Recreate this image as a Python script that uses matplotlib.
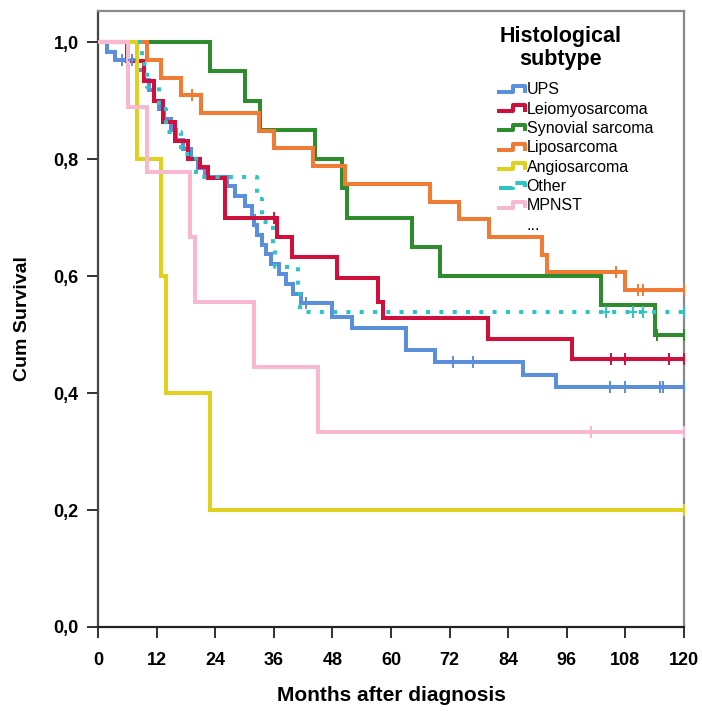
import matplotlib
matplotlib.use("Agg")
import matplotlib.pyplot as plt
from matplotlib.legend_handler import HandlerBase
from matplotlib.lines import Line2D
from matplotlib.ticker import FuncFormatter

# step data (months, cumulative survival)
ups_t = [0, 1.8, 3.5, 8, 9.5, 10.5, 11.5, 12.5, 13.5, 15, 16, 17.5, 19, 20.5, 22,
         26.5, 28, 30, 31.5, 32, 32.5, 33.5, 34.5, 35.5, 37, 38.5, 40, 41.5,
         47.9, 52, 63, 69, 87, 93.8]
ups_s = [1, .983, .969, .952, .935, .918, .90, .885, .868, .85, .833, .817, .80, .785, .77,
         .753, .737, .72, .703, .687, .67, .653, .637, .62, .603, .587, .57, .553,
         .53, .511, .473, .453, .431, .41]
ups_cens_t = [5, 7, 42.6, 72.7, 76.8, 104.9, 108, 115, 115.8, 120]

leio_t = [0, 6, 9.5, 11.5, 13.3, 15.7, 18.4, 20.9, 22.5, 26, 36.6, 39.8, 48.9, 57.4, 58.3, 79.9, 97.1]
leio_s = [1, .967, .933, .90, .863, .83, .80, .787, .767, .70, .667, .632, .597, .556, .528, .492, .458]
leio_cens_t = [36, 105, 108, 117, 120]

syn_t = [0, 23, 30.1, 33.2, 44.5, 50, 51, 64.3, 70, 103, 114]
syn_s = [1, .95, .90, .85, .80, .75, .70, .65, .60, .55, .50]
syn_cens_t = [114.5, 120]

lipo_t = [0, 10, 13, 17, 21, 33, 36, 44, 50.6, 68, 74, 80, 91, 92, 108]
lipo_s = [1, .970, .939, .909, .879, .848, .818, .788, .758, .727, .697, .667, .636, .606, .576]
lipo_cens_t = [19.3, 106, 110.6, 111.6, 120]

angio_t = [0, 8, 13, 14, 23]
angio_s = [1, .8, .6, .4, .2]
angio_cens_t = [120]

other_t = [0, 9, 10, 12.5, 14, 17, 20, 32.6, 33.5, 35.8, 36.2, 41, 41.3]
other_s = [1, .962, .923, .885, .846, .808, .769, .731, .692, .654, .615, .577, .538]
other_cens_t = [104, 109.6, 111.6, 120]

mpnst_t = [0, 6.2, 10, 18.9, 19.9, 32, 45]
mpnst_s = [1, .889, .778, .667, .556, .444, .333]
mpnst_cens_t = [101, 120]

labels = ["UPS", "Leiomyosarcoma", "Synovial sarcoma", "Liposarcoma",
          "Angiosarcoma", "Other", "MPNST"]
colors = ["#5B8FDB", "#CF0F3C", "#2E8B2E", "#F07B35", "#E0D020", "#2EC4C4", "#F7B9D1"]

SANS = ["Liberation Sans", "DejaVu Sans"]


def level_at(t, s, x):
    val = s[0]
    for ti, si in zip(t, s):
        if ti <= x:
            val = si
    return val


class StepHandler(HandlerBase):
    # small step-shaped legend key like the SPSS one
    def create_artists(self, legend, orig_handle, xdescent, ydescent,
                       width, height, fontsize, trans):
        x0 = -xdescent
        y0 = -ydescent
        xs = [x0, x0 + 0.55 * width, x0 + 0.55 * width, x0 + width, x0 + width]
        ys = [y0 + 0.25 * height, y0 + 0.25 * height, y0 + 0.75 * height,
              y0 + 0.75 * height, y0 + 0.35 * height]
        ln = Line2D(xs, ys, color=orig_handle.get_color(),
                    linewidth=orig_handle.get_linewidth(),
                    linestyle=orig_handle.get_linestyle(), transform=trans)
        return [ln]


series = [
    (ups_t, ups_s, ups_cens_t),
    (leio_t, leio_s, leio_cens_t),
    (syn_t, syn_s, syn_cens_t),
    (lipo_t, lipo_s, lipo_cens_t),
    (angio_t, angio_s, angio_cens_t),
    (other_t, other_s, other_cens_t),
    (mpnst_t, mpnst_s, mpnst_cens_t),
]

fig = plt.figure(figsize=(7.02, 7.14), dpi=100)
ax = fig.add_axes([98 / 702, 87 / 714, 586 / 702, 616 / 714])

order = [6, 4, 2, 3, 0, 1, 5]
handles = {}
for i in order:
    t, s, ct = series[i]
    ls = (0, (1, 2.3)) if labels[i] == "Other" else "-"
    tt = list(t) + [120]
    ss = list(s) + [s[-1]]
    (ln,) = ax.step(tt, ss, where="post", color=colors[i], lw=2.9,
                    linestyle=ls, solid_joinstyle="miter", zorder=2 + i * 0.1)
    handles[i] = ln
    cy = [level_at(t, s, x) for x in ct]
    ax.plot(ct, cy, linestyle="none", marker="|", markersize=9,
            markeredgewidth=1.4, color=colors[i], zorder=3)
    ax.plot(ct, cy, linestyle="none", marker="_", markersize=6,
            markeredgewidth=1.4, color=colors[i], zorder=3)

ax.set_xlim(0, 120)
ax.set_ylim(0, 1.053)
ax.set_xticks(range(0, 121, 12))
ax.set_yticks([0, 0.2, 0.4, 0.6, 0.8, 1.0])
ax.yaxis.set_major_formatter(FuncFormatter(lambda v, p: f"{v:.1f}".replace(".", ",")))

for sp in ["top", "right"]:
    ax.spines[sp].set_color("#8a8a8a")
    ax.spines[sp].set_linewidth(1.6)
ax.spines["left"].set_color("#444444")
ax.spines["left"].set_linewidth(1.6)
ax.spines["bottom"].set_color("#222222")
ax.spines["bottom"].set_linewidth(1.6)

ax.tick_params(axis="both", direction="out", length=8, width=1.3, color="#222222")
ax.tick_params(axis="y", pad=6)
ax.tick_params(axis="x", pad=10)
for lab in ax.get_yticklabels() + ax.get_xticklabels():
    lab.set_fontfamily(SANS)
    lab.set_fontweight("bold")
    lab.set_fontsize(13)

ax.set_xlabel("Months after diagnosis", fontsize=15, fontweight="bold",
              family=SANS, labelpad=12)
ax.set_ylabel("Cum Survival", fontsize=14, fontweight="bold",
              family=SANS, labelpad=16)

leg_handles = [handles[i] for i in range(7)]
leg_handles.append(Line2D([], [], color="none"))
leg_labels = labels + ["..."]
leg = ax.legend(leg_handles, leg_labels, title="Histological\nsubtype",
                loc="upper left", bbox_to_anchor=(0.685, 0.975), frameon=False,
                prop={"family": SANS, "size": 11.5},
                handlelength=1.6, handletextpad=0.1, labelspacing=0.27,
                borderpad=0, borderaxespad=0,
                handler_map={Line2D: StepHandler()})
title = leg.get_title()
title.set_fontweight("bold")
title.set_fontsize(15.5)
title.set_family(SANS)
title.set_multialignment("center")
title.set_linespacing(1.1)
leg._legend_box.align = "left"
leg._legend_box.sep = 9

fig.savefig("out.png", dpi=100)
